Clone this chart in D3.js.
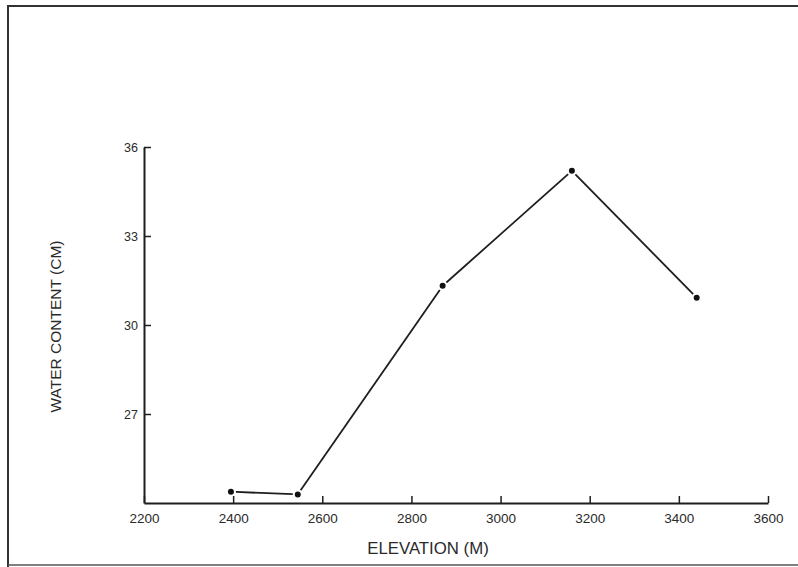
<!DOCTYPE html>
<html><head><meta charset="utf-8">
<script src="https://cdn.jsdelivr.net/npm/d3@7"></script>
<style>
html,body{margin:0;padding:0;background:#fff;}
svg{display:block;}
text{font-family:"Liberation Sans",Arial,Helvetica,sans-serif;fill:#2a2a2a;}
</style></head>
<body>
<svg id="chart" width="798" height="567"></svg>
<script>
const elevation = [2395, 2545, 2870, 3160, 3440];
const waterContent = [24.38, 24.29, 31.32, 35.2, 30.92];
const xTicks = [2200, 2400, 2600, 2800, 3000, 3200, 3400, 3600];
const yTicks = [27, 30, 33, 36];
const xTitle = "ELEVATION (M)";
const yTitle = "WATER CONTENT (CM)";

const svg = d3.select("#chart");
const ink = "#1e1e1e";

// page frame
svg.append("path")
  .attr("d", "M8,567 L8,6 L798,6")
  .attr("fill", "none").attr("stroke", "#333").attr("stroke-width", 2);
svg.append("line").attr("x1", 8).attr("x2", 798).attr("y1", 565).attr("y2", 565)
  .attr("stroke", "#555").attr("stroke-width", 1.5);

const x = d3.scaleLinear().domain([2200, 3600]).range([144, 768]);
const y = d3.scaleLinear().domain([24, 36]).range([503, 147]);

const xAxis = svg.append("g").attr("transform", `translate(0,${y(24)})`)
  .call(d3.axisBottom(x).tickValues(xTicks).tickSizeInner(-7).tickSizeOuter(0).tickPadding(10).tickFormat(d3.format("d")));
xAxis.select(".domain").attr("stroke", ink).attr("stroke-width", 2);
xAxis.selectAll(".tick line").attr("stroke", ink).attr("stroke-width", 1.5);
xAxis.selectAll(".tick text").style("font-size", "13.5px").attr("fill", "#2a2a2a");

const yAxis = svg.append("g").attr("transform", `translate(${x(2200)},0)`)
  .call(d3.axisLeft(y).tickValues(yTicks).tickSizeInner(-7).tickSizeOuter(0).tickPadding(6).tickFormat(d3.format("d")));
yAxis.select(".domain").attr("stroke", ink).attr("stroke-width", 2);
yAxis.selectAll(".tick line").attr("stroke", ink).attr("stroke-width", 1.5);
yAxis.selectAll(".tick text").style("font-size", "12.5px").attr("fill", "#2a2a2a");

// line segments with small gaps near the dots
const pts = elevation.map((e, i) => [x(e), y(waterContent[i])]);
const gap = 5;
const segs = d3.pairs(pts).map(([a, b]) => {
  const dx = b[0] - a[0], dy = b[1] - a[1], L = Math.hypot(dx, dy);
  const ux = dx / L, uy = dy / L;
  return [[a[0] + ux * gap, a[1] + uy * gap], [b[0] - ux * gap, b[1] - uy * gap]];
});
const line = d3.line();
svg.append("g").selectAll("path").data(segs).join("path")
  .attr("d", d => line(d)).attr("fill", "none")
  .attr("stroke", ink).attr("stroke-width", 1.8);

svg.append("g").selectAll("circle").data(pts).join("circle")
  .attr("cx", d => d[0]).attr("cy", d => d[1]).attr("r", 3).attr("fill", "#111");

svg.append("text").attr("x", 428).attr("y", 554).attr("text-anchor", "middle")
  .style("font-size", "16.8px").text(xTitle);
svg.append("text").attr("transform", "translate(61,326.5) rotate(-90)")
  .attr("text-anchor", "middle").style("font-size", "15.5px").text(yTitle);
</script>
</body></html>
